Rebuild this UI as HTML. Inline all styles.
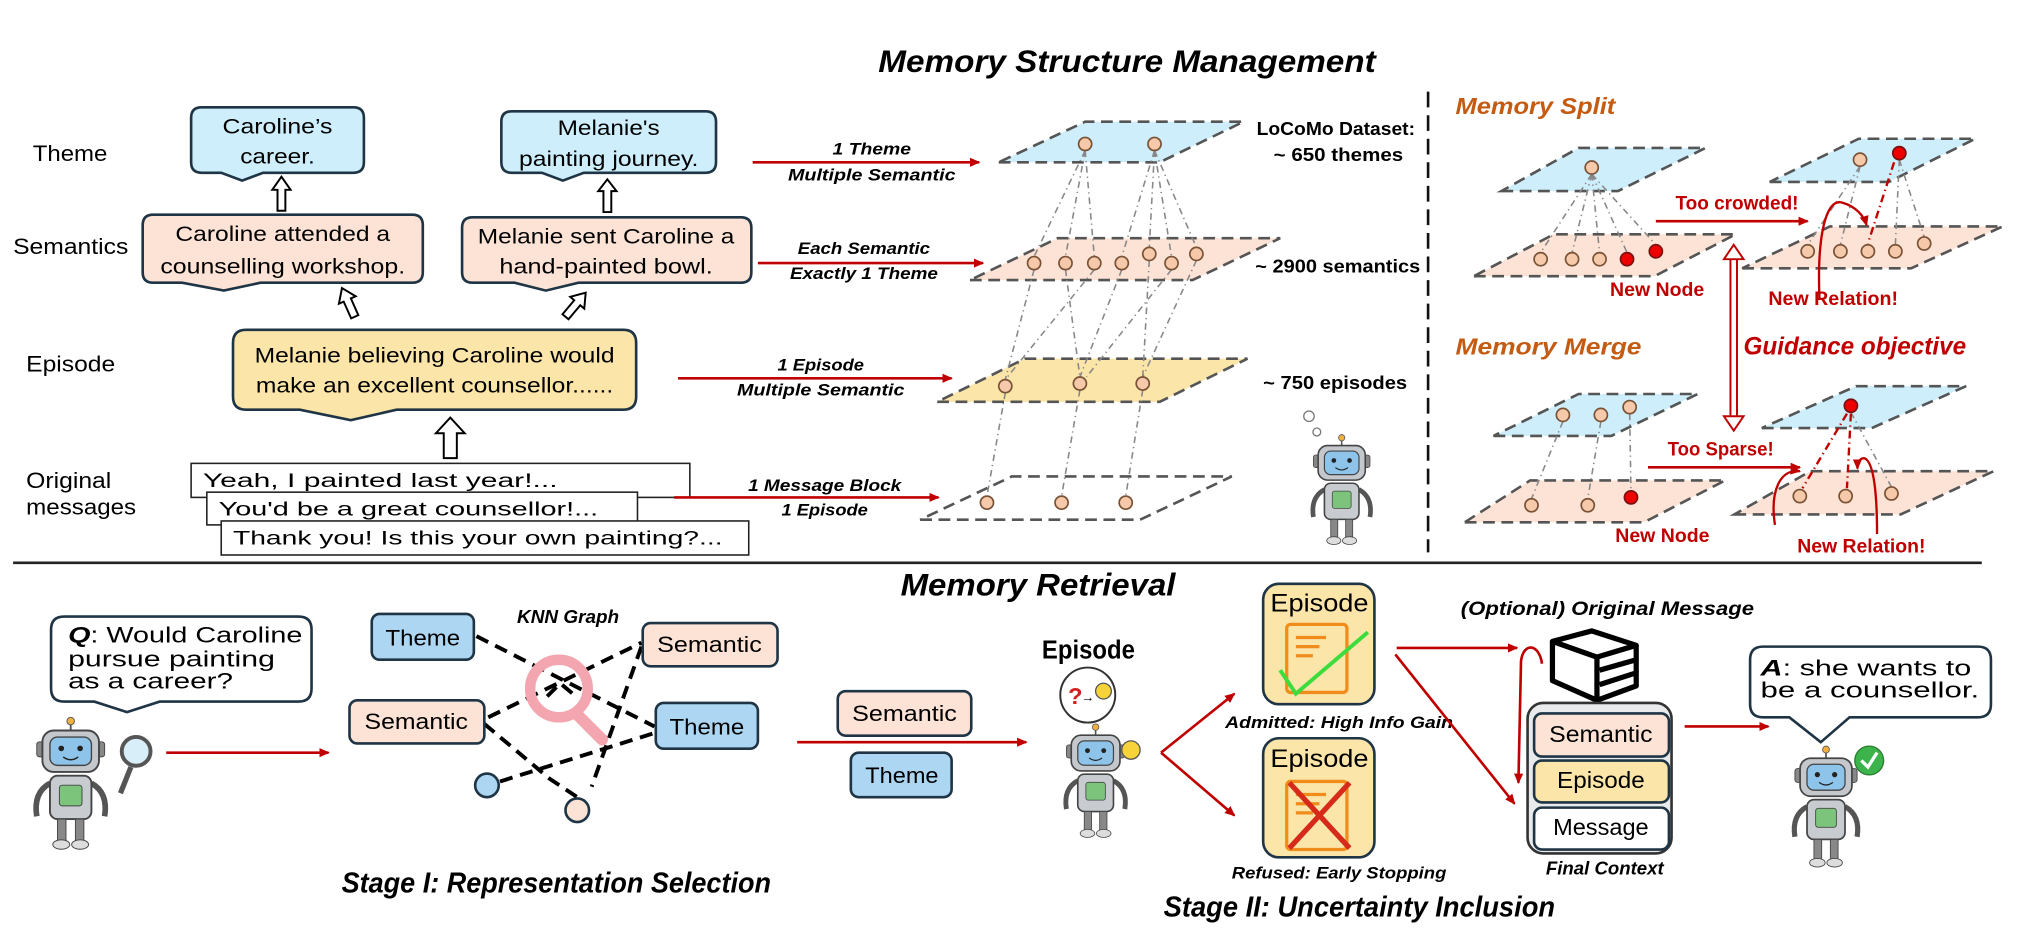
<!DOCTYPE html>
<html><head><meta charset="utf-8"><style>
html,body{margin:0;padding:0;background:#fff;}
svg{display:block;}
text{font-family:"Liberation Sans",sans-serif;}
.mono{font-family:"Liberation Mono",monospace;}
.bi{font-weight:bold;font-style:italic;}
</style></head><body>
<svg width="2042" height="938" viewBox="0 0 1560 716.6" xmlns="http://www.w3.org/2000/svg">
<defs>
<marker id="ra" markerWidth="8" markerHeight="8" refX="7" refY="4" orient="auto" markerUnits="userSpaceOnUse"><path d="M0,0.5 L8,4 L0,7.5 Z" fill="#c00000"/></marker>
<g id="robot">
 <line x1="50" y1="2" x2="50" y2="14" stroke="#555" stroke-width="2"/>
 <circle cx="50" cy="4" r="4" fill="#f0b040" stroke="#555"/>
 <rect x="14" y="26" width="8" height="16" rx="3" fill="#888" stroke="#444"/>
 <rect x="78" y="26" width="8" height="16" rx="3" fill="#888" stroke="#444"/>
 <rect x="20" y="14" width="60" height="44" rx="12" fill="#c4c8cc" stroke="#444" stroke-width="2"/>
 <rect x="28" y="21" width="44" height="30" rx="8" fill="#8ec4ea" stroke="#444" stroke-width="1.5"/>
 <circle cx="40" cy="33" r="3" fill="#222"/><circle cx="60" cy="33" r="3" fill="#222"/>
 <path d="M42,42 Q50,48 58,42" fill="none" stroke="#222" stroke-width="1.5"/>
 <path d="M28,70 Q10,80 14,105" fill="none" stroke="#555" stroke-width="6"/>
 <path d="M72,70 Q90,80 86,105" fill="none" stroke="#555" stroke-width="6"/>
 <rect x="28" y="62" width="44" height="46" rx="8" fill="#c8ccd0" stroke="#444" stroke-width="2"/>
 <rect x="38" y="72" width="24" height="22" rx="3" fill="#7cc47c" stroke="#444"/>
 <rect x="36" y="108" width="9" height="24" fill="#888" stroke="#444"/>
 <rect x="55" y="108" width="9" height="24" fill="#888" stroke="#444"/>
 <ellipse cx="40" cy="135" rx="9" ry="5" fill="#ddd" stroke="#444"/>
 <ellipse cx="60" cy="135" rx="9" ry="5" fill="#ddd" stroke="#444"/>
</g>
</defs>

<!-- ================= TOP ================= -->
<text x="671" y="55" font-size="24" class="bi" textLength="380" lengthAdjust="spacingAndGlyphs">Memory Structure Management</text>

<text x="25" y="123" font-size="17" textLength="57" lengthAdjust="spacingAndGlyphs">Theme</text>
<text x="10" y="194" font-size="17" textLength="88" lengthAdjust="spacingAndGlyphs">Semantics</text>
<text x="20" y="284" font-size="17" textLength="68" lengthAdjust="spacingAndGlyphs">Episode</text>
<text x="20" y="373" font-size="17" textLength="65" lengthAdjust="spacingAndGlyphs">Original</text>
<text x="20" y="393" font-size="17" textLength="84" lengthAdjust="spacingAndGlyphs">messages</text>

<g stroke="#1f3545" stroke-width="2">
<path fill="#cdeefa" d="M154,82 H270 Q278,82 278,90 V124 Q278,132 270,132 H201 L185,138 L169,132 H154 Q146,132 146,124 V90 Q146,82 154,82 Z"/>
<path fill="#cdeefa" d="M391,85 H539 Q547,85 547,93 V124 Q547,132 539,132 H446 L430,138 L414,132 H391 Q383,132 383,124 V93 Q383,85 391,85 Z"/>
<path fill="#fde3d6" d="M117,164 H315 Q323,164 323,172 V208 Q323,216 315,216 H199 L171,222 L139,216 H117 Q109,216 109,208 V172 Q109,164 117,164 Z"/>
<path fill="#fde3d6" d="M361,166 H566 Q574,166 574,174 V208 Q574,216 566,216 H442 L417,222 L393,216 H361 Q353,216 353,208 V174 Q353,166 361,166 Z"/>
<path fill="#fbe5a8" d="M188,252 H476 Q486,252 486,262 V303 Q486,313 476,313 H303 L268,321 L229,313 H188 Q178,313 178,303 V262 Q178,252 188,252 Z"/>
</g>
<g font-size="16" text-anchor="middle">
<text x="212" y="102" textLength="84" lengthAdjust="spacingAndGlyphs">Caroline’s</text>
<text x="212" y="125" textLength="57" lengthAdjust="spacingAndGlyphs">career.</text>
<text x="465" y="103" textLength="78" lengthAdjust="spacingAndGlyphs">Melanie's</text>
<text x="465" y="127" textLength="137" lengthAdjust="spacingAndGlyphs">painting journey.</text>
<text x="216" y="184" textLength="164" lengthAdjust="spacingAndGlyphs">Caroline attended a</text>
<text x="216" y="209" textLength="187" lengthAdjust="spacingAndGlyphs">counselling workshop.</text>
<text x="463" y="186" textLength="196" lengthAdjust="spacingAndGlyphs">Melanie sent Caroline a</text>
<text x="463" y="209" textLength="163" lengthAdjust="spacingAndGlyphs">hand-painted bowl.</text>
<text x="332" y="277" textLength="275" lengthAdjust="spacingAndGlyphs">Melanie believing Caroline would</text>
<text x="332" y="300" textLength="273" lengthAdjust="spacingAndGlyphs">make an excellent counsellor......</text>
</g>

<!-- hollow arrows -->
<g fill="#fff" stroke="#000" stroke-width="1.5">
<polygon points="212,161 218,161 218,145 222,145 215,135 208,145 212,145"/>
<polygon points="461,162 467,162 467,146 471,146 464,137 457,146 461,146"/>
<polygon points="339,350 349,350 349,331 355,331 344,319 333,331 339,331"/>
<g transform="translate(271,242) rotate(-24)"><polygon points="-3,0 3,0 3,-14 7,-14 0,-24 -7,-14 -3,-14"/></g>
<g transform="translate(432,242) rotate(40)"><polygon points="-3,0 3,0 3,-14 7,-14 0,-24 -7,-14 -3,-14"/></g>
</g>

<!-- message boxes -->
<g fill="#fff" stroke="#222" stroke-width="1.2">
<rect x="146" y="354" width="381" height="26"/>
<rect x="158" y="376" width="329" height="25"/>
<rect x="169" y="398" width="403" height="26"/>
</g>
<g class="mono" font-size="15">
<text x="155" y="372" textLength="271" lengthAdjust="spacingAndGlyphs">Yeah, I painted last year!...</text>
<text x="167" y="394" textLength="290" lengthAdjust="spacingAndGlyphs">You'd be a great counsellor!...</text>
<text x="178" y="416" textLength="374" lengthAdjust="spacingAndGlyphs">Thank you! Is this your own painting?...</text>
</g>

<!-- red arrows with labels -->
<g stroke="#c00000" stroke-width="2" marker-end="url(#ra)">
<line x1="575" y1="124" x2="748" y2="124"/>
<line x1="579" y1="201" x2="751" y2="201"/>
<line x1="518" y1="289" x2="727" y2="289"/>
<line x1="515" y1="380" x2="717" y2="380"/>
</g>
<g font-size="13" class="bi" text-anchor="middle">
<text x="666" y="118" textLength="60" lengthAdjust="spacingAndGlyphs">1 Theme</text>
<text x="666" y="138" textLength="128" lengthAdjust="spacingAndGlyphs">Multiple Semantic</text>
<text x="660" y="194" textLength="101" lengthAdjust="spacingAndGlyphs">Each Semantic</text>
<text x="660" y="213" textLength="113" lengthAdjust="spacingAndGlyphs">Exactly 1 Theme</text>
<text x="627" y="283" textLength="66" lengthAdjust="spacingAndGlyphs">1 Episode</text>
<text x="627" y="302" textLength="128" lengthAdjust="spacingAndGlyphs">Multiple Semantic</text>
<text x="630" y="375" textLength="117" lengthAdjust="spacingAndGlyphs">1 Message Block</text>
<text x="630" y="394" textLength="66" lengthAdjust="spacingAndGlyphs">1 Episode</text>
</g>

<!-- layered planes -->
<g stroke="#555" stroke-width="2" stroke-dasharray="9 5">
<polygon points="763,124 886,124 950,93 829,93" fill="#cdeefa"/>
<polygon points="741,214 911,214 978,182 808,182" fill="#fce3d5"/>
<polygon points="716,307 886,307 953,274 783,274" fill="#fbe5a8"/>
<polygon points="703,397 871,397 941,364 773,364" fill="none"/>
</g>
<g stroke="#888" stroke-width="1.2" stroke-dasharray="5 3 1 3" fill="none">
<line x1="829" y1="115" x2="790" y2="196"/><line x1="829" y1="115" x2="814" y2="196"/><line x1="829" y1="115" x2="836" y2="196"/>
<line x1="882" y1="115" x2="857" y2="196"/><line x1="882" y1="115" x2="878" y2="189"/><line x1="882" y1="115" x2="895" y2="196"/><line x1="882" y1="115" x2="914" y2="189"/>
<line x1="790" y1="206" x2="768" y2="290"/><line x1="814" y1="206" x2="825" y2="288"/><line x1="836" y1="206" x2="768" y2="290"/>
<line x1="857" y1="206" x2="825" y2="288"/><line x1="878" y1="199" x2="873" y2="288"/><line x1="914" y1="199" x2="873" y2="288"/><line x1="895" y1="206" x2="830" y2="288"/>
<line x1="768" y1="300" x2="754" y2="379"/><line x1="825" y1="298" x2="811" y2="379"/><line x1="873" y1="298" x2="860" y2="379"/>
</g>
<g fill="#f6c9aa" stroke="#7a5236" stroke-width="1.3">
<circle cx="829" cy="110" r="5"/><circle cx="882" cy="110" r="5"/>
<circle cx="790" cy="201" r="5"/><circle cx="814" cy="201" r="5"/><circle cx="836" cy="201" r="5"/><circle cx="857" cy="201" r="5"/><circle cx="878" cy="194" r="5"/><circle cx="895" cy="201" r="5"/><circle cx="914" cy="194" r="5"/>
<circle cx="768" cy="295" r="5"/><circle cx="825" cy="293" r="5"/><circle cx="873" cy="293" r="5"/>
<circle cx="754" cy="384" r="5"/><circle cx="811" cy="384" r="5"/><circle cx="860" cy="384" r="5"/>
</g>
<g font-size="14" font-weight="bold">
<text x="960" y="103" textLength="121" lengthAdjust="spacingAndGlyphs">LoCoMo Dataset:</text>
<text x="973" y="123" textLength="99" lengthAdjust="spacingAndGlyphs">~ 650 themes</text>
<text x="959" y="208" textLength="126" lengthAdjust="spacingAndGlyphs">~ 2900 semantics</text>
<text x="965" y="297" textLength="110" lengthAdjust="spacingAndGlyphs">~ 750 episodes</text>
</g>
<circle cx="1000" cy="318" r="4" fill="#fff" stroke="#777"/><circle cx="1006" cy="330" r="3" fill="#fff" stroke="#777"/>
<use href="#robot" transform="translate(995,332) scale(0.6)"/>

<line x1="1091" y1="70" x2="1091" y2="422" stroke="#111" stroke-width="2" stroke-dasharray="12 6"/>

<!-- right panel -->
<g font-size="18" class="bi" fill="#c55a11">
<text x="1112" y="87" textLength="122" lengthAdjust="spacingAndGlyphs">Memory Split</text>
<text x="1112" y="271" textLength="142" lengthAdjust="spacingAndGlyphs">Memory Merge</text>
</g>
<text x="1332" y="271" font-size="19" class="bi" fill="#c00000" textLength="170" lengthAdjust="spacingAndGlyphs">Guidance objective</text>

<g stroke="#555" stroke-width="2" stroke-dasharray="9 5">
<polygon points="1147,146 1236,146 1303,113 1206,113" fill="#cdeefa"/>
<polygon points="1126,211 1264,211 1326,179 1187,179" fill="#fce3d5"/>
<polygon points="1352,139 1443,139 1509,106 1420,106" fill="#cdeefa"/>
<polygon points="1331,205 1460,205 1530,173 1398,173" fill="#fce3d5"/>
<polygon points="1141,333 1231,333 1297,301 1206,301" fill="#cdeefa"/>
<polygon points="1119,399 1256,399 1318,367 1169,367" fill="#fce3d5"/>
<polygon points="1346,327 1430,327 1502,295 1418,295" fill="#cdeefa"/>
<polygon points="1325,393 1452,393 1523,360 1383,360" fill="#fce3d5"/>
</g>
<g stroke="#888" stroke-width="1.2" stroke-dasharray="5 3 1 3" fill="none">
<line x1="1216" y1="133" x2="1177" y2="193"/><line x1="1216" y1="133" x2="1201" y2="193"/><line x1="1216" y1="133" x2="1222" y2="193"/><line x1="1216" y1="133" x2="1243" y2="193"/><line x1="1216" y1="133" x2="1265" y2="187"/>
<line x1="1421" y1="127" x2="1381" y2="187"/><line x1="1421" y1="127" x2="1406" y2="187"/><line x1="1451" y1="122" x2="1448" y2="187"/><line x1="1451" y1="122" x2="1470" y2="181"/>
<line x1="1194" y1="322" x2="1170" y2="381"/><line x1="1223" y1="322" x2="1213" y2="381"/><line x1="1245" y1="316" x2="1246" y2="375"/>
<line x1="1414" y1="315" x2="1445" y2="372"/>
</g>
<g fill="#f6c9aa" stroke="#7a5236" stroke-width="1.3">
<circle cx="1216" cy="128" r="5"/>
<circle cx="1177" cy="198" r="5"/><circle cx="1201" cy="198" r="5"/><circle cx="1222" cy="198" r="5"/>
<circle cx="1421" cy="122" r="5"/>
<circle cx="1381" cy="192" r="5"/><circle cx="1406" cy="192" r="5"/><circle cx="1427" cy="192" r="5"/><circle cx="1448" cy="192" r="5"/><circle cx="1470" cy="186" r="5"/>
<circle cx="1194" cy="317" r="5"/><circle cx="1223" cy="317" r="5"/><circle cx="1245" cy="311" r="5"/>
<circle cx="1170" cy="386" r="5"/><circle cx="1213" cy="386" r="5"/>
<circle cx="1375" cy="379" r="5"/><circle cx="1410" cy="379" r="5"/><circle cx="1445" cy="377" r="5"/>
</g>
<g fill="#ee0000" stroke="#7a1010" stroke-width="1.3">
<circle cx="1243" cy="198" r="5"/><circle cx="1265" cy="192" r="5"/>
<circle cx="1451" cy="117" r="5"/>
<circle cx="1246" cy="380" r="5"/>
<circle cx="1414" cy="310" r="5"/>
</g>
<g stroke="#c00000" stroke-width="1.8" fill="none">
<line x1="1447" y1="124" x2="1427" y2="186" stroke-dasharray="6 3 1 3"/>
<line x1="1411" y1="316" x2="1377" y2="373" stroke-dasharray="6 3 1 3"/>
<line x1="1414" y1="316" x2="1411" y2="373" stroke-dasharray="6 3 1 3"/>
<path d="M1390,228 C1388,180 1395,150 1408,155 C1418,158 1424,165 1426,172" marker-end="url(#ra)"/>
<path d="M1356,401 C1352,375 1360,358 1375,360" marker-end="url(#ra)"/>
<path d="M1434,408 C1434,380 1432,352 1424,350 C1420,350 1419,355 1419,358" marker-end="url(#ra)"/>
</g>
<g stroke="#c00000" stroke-width="2" marker-end="url(#ra)">
<line x1="1265" y1="169" x2="1381" y2="169"/>
<line x1="1259" y1="357" x2="1375" y2="357"/>
</g>
<!-- double arrow -->
<g stroke="#c00000" stroke-width="1.5" fill="#fff">
<line x1="1322" y1="196" x2="1322" y2="320"/><line x1="1327" y1="196" x2="1327" y2="320"/>
<polygon points="1324.5,187 1332,198 1317,198"/><polygon points="1324.5,329 1332,318 1317,318"/>
</g>
<g font-size="15" font-weight="bold" fill="#c00000">
<text x="1280" y="160" textLength="94" lengthAdjust="spacingAndGlyphs">Too crowded!</text>
<text x="1230" y="226" textLength="72" lengthAdjust="spacingAndGlyphs">New Node</text>
<text x="1351" y="233" textLength="99" lengthAdjust="spacingAndGlyphs">New Relation!</text>
<text x="1274" y="348" textLength="81" lengthAdjust="spacingAndGlyphs">Too Sparse!</text>
<text x="1234" y="414" textLength="72" lengthAdjust="spacingAndGlyphs">New Node</text>
<text x="1373" y="422" textLength="98" lengthAdjust="spacingAndGlyphs">New Relation!</text>
</g>

<!-- divider -->
<line x1="10" y1="430" x2="1514" y2="430" stroke="#222" stroke-width="2"/>

<!-- ================= BOTTOM ================= -->
<text x="688" y="455" font-size="24" class="bi" textLength="210" lengthAdjust="spacingAndGlyphs">Memory Retrieval</text>

<path fill="#fff" stroke="#1f3545" stroke-width="2" d="M49,471 H228 Q238,471 238,481 V526 Q238,536 228,536 H122 L97,544 L72,536 H49 Q39,536 39,526 V481 Q39,471 49,471 Z"/>
<g class="mono" font-size="17">
<text x="52" y="491" textLength="179" lengthAdjust="spacingAndGlyphs"><tspan font-weight="bold" font-style="italic">Q</tspan>: Would Caroline</text>
<text x="52" y="509" textLength="158" lengthAdjust="spacingAndGlyphs">pursue painting</text>
<text x="52" y="526" textLength="126" lengthAdjust="spacingAndGlyphs">as a career?</text>
</g>
<use href="#robot" transform="translate(18,548) scale(0.72)"/>
<circle cx="104" cy="574" r="11" fill="#d8eef8" stroke="#555" stroke-width="3"/>
<line x1="100" y1="586" x2="92" y2="606" stroke="#555" stroke-width="4"/>
<line x1="127" y1="575" x2="251" y2="575" stroke="#c00000" stroke-width="2" marker-end="url(#ra)"/>

<!-- KNN graph -->
<text x="395" y="476" font-size="14" class="bi" textLength="78" lengthAdjust="spacingAndGlyphs">KNN Graph</text>
<g stroke="#000" stroke-width="3" stroke-dasharray="10 6" fill="none">
<line x1="364" y1="486" x2="500" y2="555"/>
<line x1="373" y1="548" x2="490" y2="491"/>
<polyline points="370,553 420,595 441,609"/>
<line x1="382" y1="597" x2="500" y2="560"/>
<line x1="490" y1="494" x2="452" y2="601"/>
<polyline points="418,532 428,522 440,532"/>
</g>
<circle cx="427" cy="526" r="22" fill="none" stroke="#f4a6b0" stroke-width="8"/>
<line x1="440" y1="545" x2="460" y2="565" stroke="#f4a6b0" stroke-width="9" stroke-linecap="round"/>
<g stroke="#1f3545" stroke-width="2">
<rect x="284" y="469" width="78" height="35" rx="6" fill="#acd6f2"/>
<rect x="491" y="476" width="103" height="33" rx="6" fill="#fde3d6"/>
<rect x="267" y="535" width="103" height="33" rx="6" fill="#fde3d6"/>
<rect x="501" y="537" width="78" height="35" rx="6" fill="#acd6f2"/>
<rect x="640" y="528" width="102" height="34" rx="6" fill="#fde3d6"/>
<rect x="650" y="575" width="77" height="34" rx="6" fill="#acd6f2"/>
<circle cx="372" cy="600" r="9" fill="#acd6f2"/>
<circle cx="441" cy="619" r="9" fill="#fde3d6"/>
</g>
<g font-size="17" text-anchor="middle">
<text x="323" y="493" textLength="57" lengthAdjust="spacingAndGlyphs">Theme</text>
<text x="542" y="498" textLength="80" lengthAdjust="spacingAndGlyphs">Semantic</text>
<text x="318" y="557" textLength="79" lengthAdjust="spacingAndGlyphs">Semantic</text>
<text x="540" y="561" textLength="57" lengthAdjust="spacingAndGlyphs">Theme</text>
<text x="691" y="551" textLength="80" lengthAdjust="spacingAndGlyphs">Semantic</text>
<text x="689" y="598" textLength="56" lengthAdjust="spacingAndGlyphs">Theme</text>
</g>
<line x1="609" y1="567" x2="784" y2="567" stroke="#c00000" stroke-width="2" marker-end="url(#ra)"/>
<text x="261" y="682" font-size="22" class="bi" textLength="328" lengthAdjust="spacingAndGlyphs">Stage I: Representation Selection</text>

<!-- Stage II -->
<text x="796" y="503" font-size="20" font-weight="bold" textLength="71" lengthAdjust="spacingAndGlyphs">Episode</text>
<circle cx="831" cy="531" r="21" fill="#fff" stroke="#333" stroke-width="1.5"/>
<text x="816" y="538" font-size="18" font-weight="bold" fill="#d02020">?</text>
<text x="826" y="536" font-size="10">→</text>
<circle cx="843" cy="528" r="6" fill="#f7d33a" stroke="#555"/>
<use href="#robot" transform="translate(806,553) scale(0.62)"/>
<circle cx="864" cy="573" r="7" fill="#f7d33a" stroke="#555"/>
<g stroke="#c00000" stroke-width="2" marker-end="url(#ra)" fill="none">
<line x1="887" y1="575" x2="943" y2="530"/>
<line x1="887" y1="575" x2="943" y2="623"/>
</g>
<g stroke="#1f3545" stroke-width="2" fill="#fbe5a8">
<rect x="965" y="446" width="85" height="92" rx="12"/>
<rect x="965" y="564" width="85" height="91" rx="12"/>
</g>
<g font-size="19" text-anchor="middle">
<text x="1008" y="467" textLength="75" lengthAdjust="spacingAndGlyphs">Episode</text>
<text x="1008" y="586" textLength="75" lengthAdjust="spacingAndGlyphs">Episode</text>
</g>
<g stroke="#f08c1c" stroke-width="2.5" fill="none">
<rect x="983" y="477" width="46" height="52" rx="3"/>
<line x1="990" y1="487" x2="1013" y2="487"/><line x1="990" y1="494" x2="1008" y2="494"/><line x1="990" y1="501" x2="1003" y2="501"/>
<rect x="983" y="597" width="46" height="52" rx="3"/>
<line x1="990" y1="607" x2="1013" y2="607"/><line x1="990" y1="614" x2="1008" y2="614"/><line x1="990" y1="621" x2="1003" y2="621"/>
</g>
<polyline points="978,512 990,530 1045,483" fill="none" stroke="#3ddc3d" stroke-width="3"/>
<g stroke="#d62a1a" stroke-width="4"><line x1="985" y1="598" x2="1031" y2="648"/><line x1="1031" y1="598" x2="985" y2="648"/></g>
<g font-size="13" class="bi">
<text x="936" y="556" textLength="174" lengthAdjust="spacingAndGlyphs">Admitted: High Info Gain</text>
<text x="941" y="671" textLength="164" lengthAdjust="spacingAndGlyphs">Refused: Early Stopping</text>
</g>
<text x="889" y="700" font-size="22" class="bi" textLength="299" lengthAdjust="spacingAndGlyphs">Stage II: Uncertainty Inclusion</text>
<text x="1116" y="470" font-size="15" class="bi" textLength="224" lengthAdjust="spacingAndGlyphs">(Optional) Original Message</text>

<g stroke="#c00000" stroke-width="2" fill="none" marker-end="url(#ra)">
<line x1="1067" y1="495" x2="1159" y2="495"/>
<line x1="1066" y1="500" x2="1157" y2="614"/>
<path d="M1178,507 C1176,492 1164,490 1162,505 L1160,598"/>
</g>
<!-- book -->
<g stroke="#000" stroke-width="4" fill="#fff" stroke-linejoin="round">
<polygon points="1186,490 1216,482 1250,493 1220,502"/>
<polyline points="1186,490 1186,520 1220,535 1250,524 1250,493" fill="none"/>
<polyline points="1220,502 1220,535"/>
<polyline points="1222,512 1250,504" fill="none"/><polyline points="1222,523 1250,514" fill="none"/>
</g>
<!-- final context -->
<rect x="1167" y="537" width="110" height="115" rx="12" fill="#e8eaec" stroke="#333" stroke-width="2"/>
<g stroke="#1f3545" stroke-width="2">
<rect x="1172" y="545" width="103" height="33" rx="6" fill="#fde3d6"/>
<rect x="1172" y="581" width="103" height="32" rx="6" fill="#fbe5a8"/>
<rect x="1172" y="617" width="103" height="32" rx="6" fill="#fff"/>
</g>
<g font-size="18" text-anchor="middle">
<text x="1223" y="567" textLength="79" lengthAdjust="spacingAndGlyphs">Semantic</text>
<text x="1223" y="602" textLength="67" lengthAdjust="spacingAndGlyphs">Episode</text>
<text x="1223" y="638" textLength="73" lengthAdjust="spacingAndGlyphs">Message</text>
</g>
<text x="1181" y="668" font-size="14" class="bi" textLength="90" lengthAdjust="spacingAndGlyphs">Final Context</text>
<line x1="1287" y1="555" x2="1351" y2="555" stroke="#c00000" stroke-width="2" marker-end="url(#ra)"/>

<path fill="#fff" stroke="#1f3545" stroke-width="2" d="M1347,494 H1511 Q1521,494 1521,504 V538 Q1521,548 1511,548 H1413 L1391,567 L1367,548 H1347 Q1337,548 1337,538 V504 Q1337,494 1347,494 Z"/>
<g class="mono" font-size="17">
<text x="1345" y="516" textLength="161" lengthAdjust="spacingAndGlyphs"><tspan font-weight="bold" font-style="italic">A</tspan>: she wants to</text>
<text x="1345" y="533" textLength="167" lengthAdjust="spacingAndGlyphs">be a counsellor.</text>
</g>
<use href="#robot" transform="translate(1362,570) scale(0.66)"/>
<circle cx="1428" cy="581" r="11" fill="#3cb44b" stroke="#2a7a30"/>
<polyline points="1422,581 1427,586 1434,575" fill="none" stroke="#fff" stroke-width="2.5"/>
</svg>
</body></html>
